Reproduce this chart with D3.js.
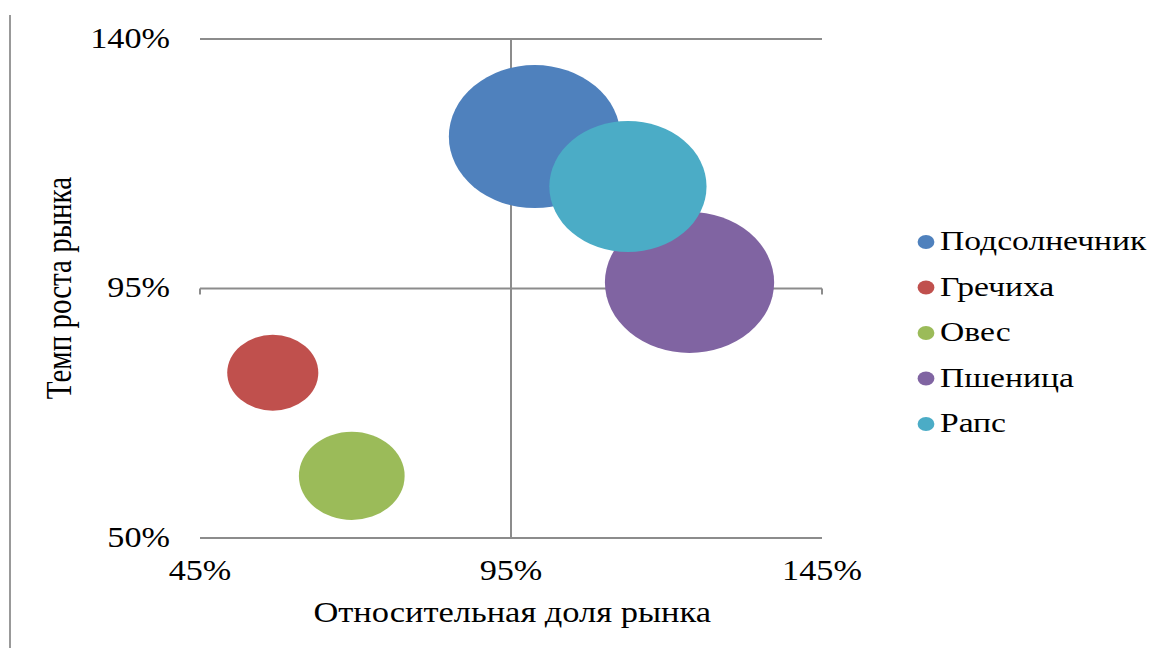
<!DOCTYPE html>
<html>
<head>
<meta charset="utf-8">
<script src="https://cdn.jsdelivr.net/npm/d3@7"></script>
<style>
  body { margin: 0; background: #fff; }
  svg { display: block; }
  text { font-family: "Liberation Serif", "Times New Roman", serif; fill: #000; }
</style>
</head>
<body>
<script>
// picture is stretched ~1.2x horizontally, so draw in a narrower viewBox
var W = 1167, H = 648, sx = 1.2;
var vw = W / sx;

// data
var crops   = ["Подсолнечник", "Гречиха", "Овес", "Пшеница", "Рапс"];
var share   = [98.8, 56.7, 69.4, 123.7, 113.8];   // относительная доля рынка, %
var growth  = [122.4, 79.8, 61.2, 96.1, 113.4];   // темп роста рынка, %
var volume  = [51.1, 14.4, 19.4, 49.7, 42.9];     // размер пузырька
var colors  = ["#4F81BD", "#C0504D", "#9BBB59", "#8064A2", "#4BACC6"];
var xTicks  = [45, 95, 145];
var yTicks  = [50, 95, 140];

var svg = d3.select("body").append("svg")
    .attr("width", W).attr("height", H)
    .attr("viewBox", "0 0 " + vw + " " + H)
    .attr("preserveAspectRatio", "none");

var x = d3.scaleLinear().domain([45, 145]).range([200 / sx, 822 / sx]);
var y = d3.scaleLinear().domain([50, 140]).range([538, 39]);
var r = d3.scaleSqrt().domain([0, d3.max(volume)]).range([0, 71.5]);

var lineColor = "#8c8c8c";

// left frame line
svg.append("line")
    .attr("x1", 10 / sx).attr("x2", 10 / sx)
    .attr("y1", 15).attr("y2", H)
    .attr("stroke", "#999").attr("stroke-width", 2)
    .attr("vector-effect", "non-scaling-stroke");

// horizontal lines
svg.selectAll(".hline").data(yTicks).enter().append("line")
    .attr("x1", x(45)).attr("x2", x(145))
    .attr("y1", function(d){ return y(d); })
    .attr("y2", function(d){ return y(d); })
    .attr("stroke", lineColor).attr("stroke-width", 2)
    .attr("vector-effect", "non-scaling-stroke");

// ticks of the horizontal axis (crosses at 95%)
svg.selectAll(".xtick").data(xTicks).enter().append("line")
    .attr("x1", function(d){ return x(d); })
    .attr("x2", function(d){ return x(d); })
    .attr("y1", y(95)).attr("y2", y(95) + 6)
    .attr("stroke", lineColor).attr("stroke-width", 2)
    .attr("vector-effect", "non-scaling-stroke");

// vertical axis at 95%
svg.append("line")
    .attr("x1", x(95)).attr("x2", x(95))
    .attr("y1", y(140)).attr("y2", y(50))
    .attr("stroke", lineColor).attr("stroke-width", 2)
    .attr("vector-effect", "non-scaling-stroke");

// tick labels
svg.selectAll(".ylab").data(yTicks).enter().append("text")
    .attr("x", 170 / sx)
    .attr("y", function(d){ return y(d) + 9; })
    .attr("text-anchor", "end")
    .style("font-size", "28.5px")
    .text(function(d){ return d + "%"; });

svg.selectAll(".xlab").data(xTicks).enter().append("text")
    .attr("x", function(d){ return x(d); })
    .attr("y", 580)
    .attr("text-anchor", "middle")
    .style("font-size", "28.5px")
    .text(function(d){ return d + "%"; });

// axis titles
svg.append("text")
    .attr("x", x(95) + 1).attr("y", 622)
    .attr("text-anchor", "middle")
    .style("font-size", "28.7px")
    .text("Относительная доля рынка");

svg.append("text")
    .attr("transform", "translate(" + (71 / sx) + "," + 288 + ") rotate(-90)")
    .attr("text-anchor", "middle")
    .style("font-size", "29px")
    .text("Темп роста рынка");

// bubbles
var idx = d3.range(crops.length);
svg.selectAll(".bubble").data(idx).enter().append("circle")
    .attr("cx", function(i){ return x(share[i]); })
    .attr("cy", function(i){ return y(growth[i]); })
    .attr("r", function(i){ return r(volume[i]); })
    .attr("fill", function(i){ return colors[i]; });

// legend
var leg = svg.selectAll(".leg").data(idx).enter().append("g")
    .attr("transform", function(i){ return "translate(" + (926 / sx) + "," + (242 + i * 45.5) + ")"; });
leg.append("circle").attr("r", 7).attr("fill", function(i){ return colors[i]; });
leg.append("text")
    .attr("x", 14 / sx)
    .attr("y", 8)
    .style("font-size", "28px")
    .text(function(i){ return crops[i]; });
</script>
</body>
</html>
